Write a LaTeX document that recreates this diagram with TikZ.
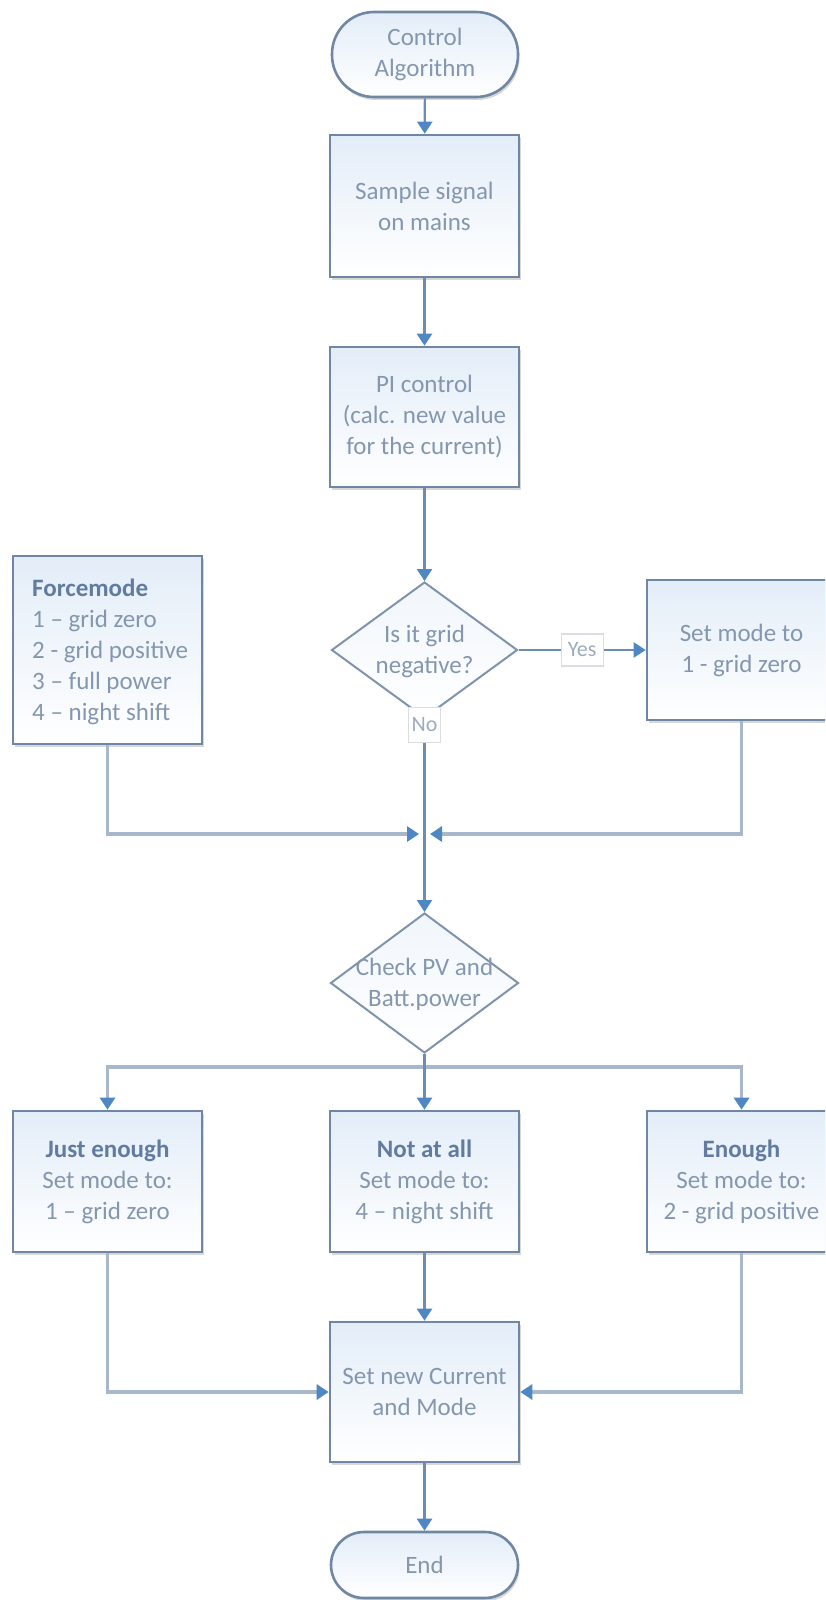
\documentclass[tikz,border=0pt]{standalone}
\usepackage{fontspec}
\setmainfont{Carlito}
\usetikzlibrary{arrows.meta,shapes.geometric,shadows,calc}

\definecolor{edge}{HTML}{6F87A3}
\definecolor{dedge}{HTML}{7F94AC}
\definecolor{txt}{HTML}{8497AF}
\definecolor{head}{HTML}{617CA0}
\definecolor{spine}{HTML}{6C8CB3}
\definecolor{side}{HTML}{A8B7CA}
\definecolor{tip}{HTML}{4E87C4}
\definecolor{tint}{HTML}{E3EDF8}
\definecolor{labedge}{HTML}{DADDE1}

\tikzset{
  x=1pt, y=-1pt,
  every node/.style={font=\fontsize{25}{31}\selectfont, text=txt},
  boxshadow/.style={drop shadow={shadow xshift=1.5pt, shadow yshift=-3pt, fill=black!22, opacity=0.7}},
  procbox/.style={draw=edge, line width=2.6pt, top color=tint, bottom color=white,
    minimum width=189pt, minimum height=140pt, align=center, inner sep=0pt, boxshadow},
  termbox/.style={draw=edge, line width=2.6pt, top color=tint, bottom color=white,
    rounded corners=#1, align=center, inner sep=0pt, boxshadow},
  decision/.style={diamond, draw=dedge, line width=2pt, top color=tint!50, bottom color=white,
    inner sep=0pt},
  decisiontext/.style={align=center, inner sep=0pt},
  flaglabel/.style={draw=labedge, line width=1.2pt, fill=white, inner sep=0pt,
    font=\fontsize{22}{26}\selectfont, text=txt!80},
  arr/.style={-{Triangle[width=15pt,length=12pt,color=tip]}},
  spineline/.style={draw=spine, line width=2.2pt, arr},
  sideline/.style={draw=side, line width=3.4pt, arr},
}

\begin{document}
\begin{tikzpicture}
  \fill[white] (0,0) rectangle (825,1600);
  \useasboundingbox (0,0) rectangle (825,1600);
  \clip (0,0) rectangle (825,1600);

  % main column
  \node[termbox=42pt, minimum width=186pt, minimum height=85pt] (start) at (425,54.5) {Control\\Algorithm};
  \node[procbox, minimum height=142pt] (sample) at (424.5,206) {Sample signal\\on mains};
  \node[procbox] (pi) at (424.5,417) {PI control\\(calc. new value\\for the current)};
  \node[decision, minimum width=186pt, minimum height=136pt] (dec1) at (424.5,650) {};
  \node[decisiontext] (dec1text) at (424.5,651) {Is it grid\\negative?};

  % side boxes beside the first decision
  \node[procbox] (setz) at (741.5,650) {Set mode to\\1 - grid zero};
  \node[procbox, minimum height=188pt] (force) at (107.5,650) {};
  \node[anchor=west, align=left, inner sep=0pt] (forcetext) at (32,652)
    {\textcolor{head}{\textbf{Forcemode}}\\1 – grid zero\\2 - grid positive\\3 – full power\\4 – night shift};

  % second decision and its three outcomes
  \node[decision, minimum width=188pt, minimum height=140pt] (dec2) at (424.5,983) {};
  \node[decisiontext] (dec2text) at (424.5,984) {Check PV and\\Batt.power};
  \node[procbox, minimum height=141pt] (just) at (107.5,1181.5)
    {\textcolor{head}{\textbf{Just enough}}\\Set mode to:\\1 – grid zero};
  \node[procbox, minimum height=141pt] (notall) at (424.5,1181.5)
    {\textcolor{head}{\textbf{Not at all}}\\Set mode to:\\4 – night shift};
  \node[procbox, minimum height=141pt] (enough) at (741.5,1181.5)
    {\textcolor{head}{\textbf{Enough}}\\Set mode to:\\2 - grid positive};

  \node[procbox] (setnew) at (424.5,1392) {Set new Current\\and Mode};
  \node[termbox=33pt, minimum width=187pt, minimum height=66pt] (end) at (424.5,1565) {End};

  % junction points
  \coordinate (mL) at (419,834);
  \coordinate (mR) at (430,834);
  \coordinate (br) at (424.5,1067);

  % connectors
  \draw[spineline] (start) -- (sample);
  \draw[spineline] (sample) -- (pi);
  \draw[spineline] (pi) -- (dec1);
  \draw[spineline] (dec1.east) -- node[flaglabel, minimum width=42pt, minimum height=32pt] (yes) {Yes} (setz.west);
  \draw[sideline] (force.south) |- (mL);
  \draw[sideline] (setz.south) |- (mR);
  \draw[spineline] (dec1.south) -- node[flaglabel, pos=0.03, minimum width=32pt, minimum height=35pt] (no) {No} (dec2.north);

  \draw[sideline] (br) -| (just.north);
  \draw[sideline] (br) -| (enough.north);
  \draw[spineline] (dec2.south) -- (notall.north);

  \draw[sideline] (just.south) |- (setnew.west);
  \draw[sideline] (enough.south) |- (setnew.east);
  \draw[spineline] (notall) -- (setnew);
  \draw[spineline] (setnew) -- (end);
\end{tikzpicture}
\end{document}
